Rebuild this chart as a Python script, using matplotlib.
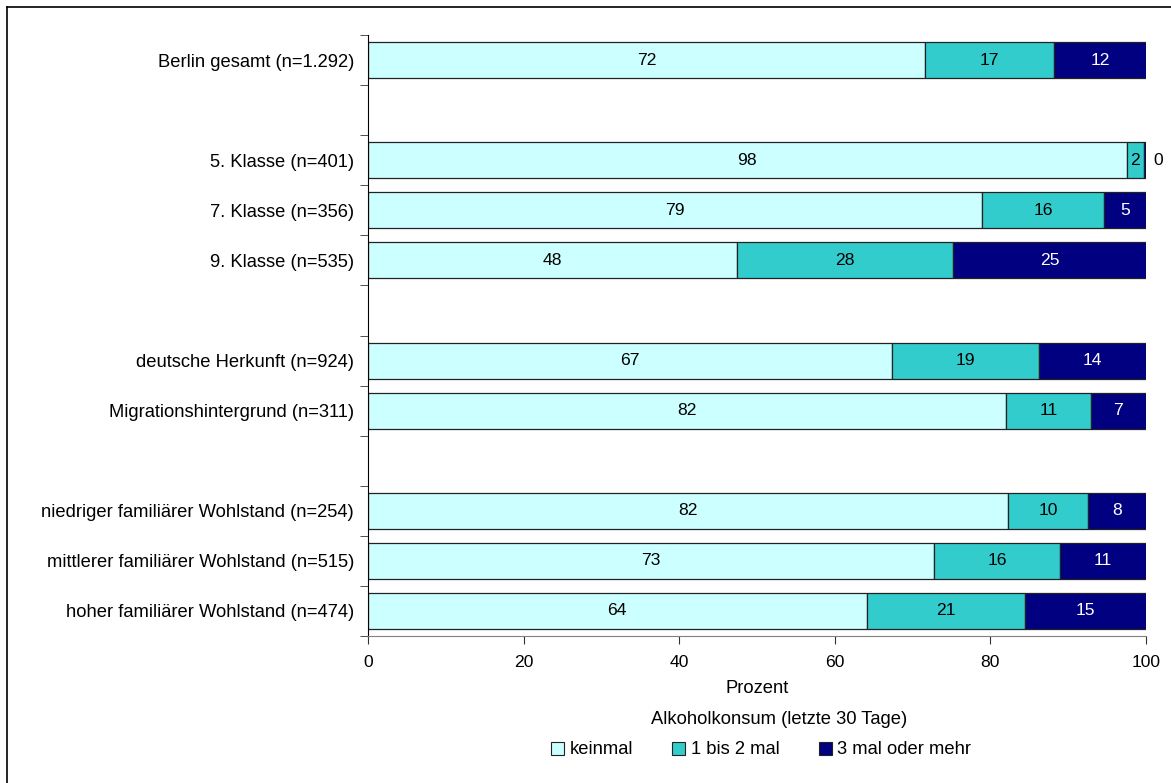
import numpy as np
import matplotlib
matplotlib.use('Agg')
import matplotlib.pyplot as plt
from matplotlib.patches import Patch
from matplotlib.lines import Line2D

plt.rcParams['font.family'] = ['Liberation Sans', 'DejaVu Sans']

# Daten
categories = ['Berlin gesamt (n=1.292)', '',
              '5. Klasse (n=401)', '7. Klasse (n=356)', '9. Klasse (n=535)', '',
              'deutsche Herkunft (n=924)', 'Migrationshintergrund (n=311)', '',
              'niedriger familiärer Wohlstand (n=254)',
              'mittlerer familiärer Wohlstand (n=515)',
              'hoher familiärer Wohlstand (n=474)']
keinmal = [71.6, None, 97.5, 78.9, 47.4, None, 67.4, 82.0, None, 82.3, 72.8, 64.1]
bis2 = [16.6, None, 2.2, 15.7, 27.8, None, 18.9, 10.9, None, 10.2, 16.1, 20.4]
mehr = [11.8, None, 0.3, 5.4, 24.8, None, 13.7, 7.1, None, 7.5, 11.1, 15.5]
label_keinmal = ['72', '', '98', '79', '48', '', '67', '82', '', '82', '73', '64']
label_bis2 = ['17', '', '2', '16', '28', '', '19', '11', '', '10', '16', '21']
label_mehr = ['12', '', '0', '5', '25', '', '14', '7', '', '8', '11', '15']
series_names = ['keinmal', '1 bis 2 mal', '3 mal oder mehr']
colors = ['#CCFFFF', '#33CCCC', '#000080']
text_colors = ['black', 'black', 'white']

fig = plt.figure(figsize=(11.71, 7.83), dpi=100)
ax = fig.add_axes([368/1171, 1-636/783, (1146-368)/1171, (636-35)/783])

FS = 13.2      # Text
FS_NUM = 12.6  # Zahlen

n = len(categories)
ypos = np.arange(n)
series = [keinmal, bis2, mehr]
labels = [label_keinmal, label_bis2, label_mehr]

for i in range(n):
    if keinmal[i] is None:
        continue
    left = 0
    for s in range(3):
        w = series[s][i]
        ax.barh(ypos[i], w, left=left, height=0.72, color=colors[s],
                edgecolor='#222222', linewidth=0.9)
        if w < 1:
            # zu klein: Beschriftung rechts neben den Balken
            ax.text(left + w + 1.0, ypos[i], labels[s][i], ha='left', va='center',
                    fontsize=FS_NUM, color='black')
        else:
            ax.text(left + w/2, ypos[i], labels[s][i], ha='center', va='center',
                    fontsize=FS_NUM, color=text_colors[s])
        left += w

ax.set_ylim(n - 0.5, -0.5)
ax.set_xlim(0, 100)
ax.set_yticks(ypos)
ax.set_yticklabels(categories, fontsize=FS)
ax.tick_params(axis='y', length=0, pad=10)
# Trennstriche zwischen den Kategorien
ax.set_yticks(np.arange(-0.5, n, 1), minor=True)
ax.tick_params(axis='y', which='minor', length=6, color='#333333')
ax.set_xticks([0, 20, 40, 60, 80, 100])
ax.tick_params(axis='x', labelsize=FS_NUM, length=6, color='#333333', pad=8)
ax.set_xlabel('Prozent', fontsize=FS, labelpad=7)

for sp in ['top', 'right']:
    ax.spines[sp].set_visible(False)
ax.spines['left'].set_color('black')
ax.spines['bottom'].set_color('#808080')

# Legende
fig.text(779/1171, 1-720/783, 'Alkoholkonsum (letzte 30 Tage)', ha='center', va='center', fontsize=FS)
handles = [Patch(facecolor=c, edgecolor='#222222', linewidth=0.8) for c in colors]
fig.legend(handles, series_names, loc='center', bbox_to_anchor=(761/1171, 1-750/783),
           ncol=3, frameon=False, fontsize=FS, handlelength=0.7, handleheight=0.7,
           handletextpad=0.3, columnspacing=2.15)

# Rahmen oben und links
fig.add_artist(Line2D([7/1171, 7/1171], [0, 1-7/783], color='black', lw=1.2, transform=fig.transFigure))
fig.add_artist(Line2D([7/1171, 1], [1-7/783, 1-7/783], color='black', lw=1.2, transform=fig.transFigure))

fig.savefig('out.png', dpi=100)
